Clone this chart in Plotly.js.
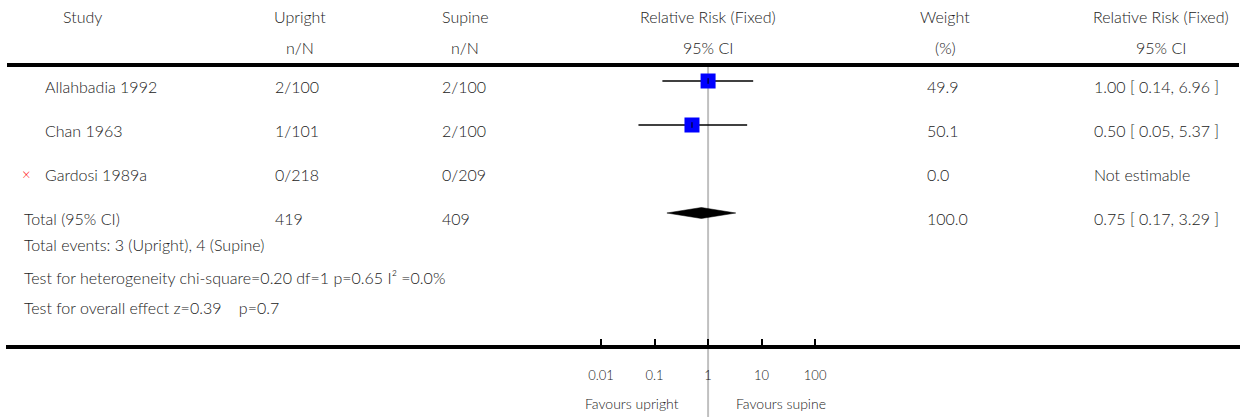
<!DOCTYPE html>
<html>
<head>
<meta charset="utf-8">
<script src="https://cdn.plot.ly/plotly-3.0.1.min.js"></script>
<style>html,body{margin:0;padding:0;background:#fff;}#chart{width:1249px;height:417px;}</style>
</head>
<body>
<div id="chart"></div>
<script>
// ---- data ----
const studies = ['Allahbadia 1992', 'Chan 1963', 'Gardosi 1989a'];
const uprightNN = ['2/100', '1/101', '0/218'];
const supineNN = ['2/100', '2/100', '0/209'];
const weights = ['49.9', '50.1', '0.0'];
const rr = [1.00, 0.50, null];
const rrLo = [0.14, 0.05, null];
const rrHi = [6.96, 5.37, null];
const rrText = ['1.00 [ 0.14, 6.96 ]', '0.50 [ 0.05, 5.37 ]', 'Not estimable'];
const estimable = [true, true, false];

const totalLabel = 'Total (95% CI)';
const totalUpright = '419';
const totalSupine = '409';
const totalWeight = '100.0';
const totalRR = 0.75;
const totalLo = 0.17;
const totalHi = 3.29;
const totalText = '0.75 [ 0.17, 3.29 ]';

const footerLines = [
  'Total events: 3 (Upright), 4 (Supine)',
  'Test for heterogeneity chi-square=0.20 df=1 p=0.65 I² =0.0%',
  'Test for overall effect z=0.39&nbsp;&nbsp;&nbsp;&nbsp;p=0.7'
];

const headerTop = ['Study', 'Upright', 'Supine', 'Relative Risk (Fixed)', 'Weight', 'Relative Risk (Fixed)'];
const headerBottom = ['', 'n/N', 'n/N', '95% CI', '(%)', '95% CI'];

const tickVals = [0.01, 0.1, 1, 10, 100];
const tickText = ['0.01', '0.1', '1', '10', '100'];
const favourLeft = 'Favours upright';
const favourRight = 'Favours supine';

// ---- layout constants ----
const W = 1249, H = 417;
const M = {l: 6, r: 9, t: 65, b: 72};
const plotW = W - M.l - M.r, plotH = H - M.t - M.b;
const px = v => (v - M.l) / plotW;            // pixel x -> paper x
const py = v => (H - M.b - v) / plotH;         // pixel y -> paper y
const FONT = 'Lato, sans-serif';
const TXT = '#222';
const FS = 16;
const FW = 300;

const headerX = [82, 300, 465, 707.5, 945, 1161];
const colLeft = {study: 43, upright: 273, supine: 440, weight: 925, rr: 1092};
const totalX = 22;
const rowShift = -5;

const rows = studies.map((_, i) => i);
const totalRow = studies.length;

const traces = [];
// CI lines
rows.forEach(i => {
  if (!estimable[i]) return;
  traces.push({
    type: 'scatter', mode: 'lines', x: [rrLo[i], rrHi[i]], y: [i, i],
    line: {color: '#000', width: 1.5}, hoverinfo: 'skip', showlegend: false
  });
});
// squares
traces.push({
  type: 'scatter', mode: 'markers',
  x: rows.filter(i => estimable[i]).map(i => rr[i]),
  y: rows.filter(i => estimable[i]),
  marker: {symbol: 'square', size: 15, color: '#0000ff', line: {width: 0}},
  hoverinfo: 'skip', showlegend: false
});
traces.push({
  type: 'scatter', mode: 'markers',
  x: rows.filter(i => estimable[i]).map(i => rr[i]),
  y: rows.filter(i => estimable[i]),
  marker: {symbol: 'line-ns', size: 4, line: {color: '#000', width: 1}},
  hoverinfo: 'skip', showlegend: false
});
// diamond
const dh = 0.125;
traces.push({
  type: 'scatter', mode: 'lines',
  x: [totalLo, totalRR, totalHi, totalRR, totalLo],
  y: [totalRow, totalRow - dh, totalRow, totalRow + dh, totalRow],
  fill: 'toself', fillcolor: '#000', line: {color: '#000', width: 0.5},
  hoverinfo: 'skip', showlegend: false
});

const ann = [];
const txt = (text, x, y, anchor, extra) => Object.assign({
  text, x, y, xref: 'paper', yref: 'paper', xanchor: anchor, yanchor: 'middle',
  showarrow: false, font: {family: FONT, size: FS, color: TXT, weight: FW}
}, extra || {});

headerTop.forEach((t, k) => ann.push(txt(t, px(headerX[k]), py(17), 'center')));
headerBottom.forEach((t, k) => { if (t) ann.push(txt(t, px(headerX[k]), py(47), 'center')); });

rows.forEach(i => {
  const ry = {yref: 'y', yshift: rowShift};
  ann.push(txt(studies[i], px(colLeft.study), i, 'left', ry));
  ann.push(txt(uprightNN[i], px(colLeft.upright), i, 'left', ry));
  ann.push(txt(supineNN[i], px(colLeft.supine), i, 'left', ry));
  ann.push(txt(weights[i], px(colLeft.weight), i, 'left', ry));
  ann.push(txt(rrText[i], px(colLeft.rr), i, 'left', ry));
  if (!estimable[i]) {
    ann.push(txt('×', px(27), i, 'center', {yref: 'y', yshift: rowShift, font: {family: FONT, size: 15, color: '#ff0000', weight: FW}}));
  }
});
{
  const ry = {yref: 'y', yshift: rowShift};
  ann.push(txt(totalLabel, px(totalX), totalRow, 'left', ry));
  ann.push(txt(totalUpright, px(colLeft.upright), totalRow, 'left', ry));
  ann.push(txt(totalSupine, px(colLeft.supine), totalRow, 'left', ry));
  ann.push(txt(totalWeight, px(colLeft.weight), totalRow, 'left', ry));
  ann.push(txt(totalText, px(colLeft.rr), totalRow, 'left', ry));
}
const footerY = [245, 277, 307];
footerLines.forEach((t, k) => ann.push(txt(t, px(totalX), py(footerY[k]), 'left')));

ann.push({text: favourLeft, x: 0, xref: 'x', y: py(403), yref: 'paper', xanchor: 'right', yanchor: 'middle',
  xshift: -27, showarrow: false, font: {family: FONT, size: 14, color: TXT, weight: FW}});
ann.push({text: favourRight, x: 0, xref: 'x', y: py(403), yref: 'paper', xanchor: 'left', yanchor: 'middle',
  xshift: 26, showarrow: false, font: {family: FONT, size: 14, color: TXT, weight: FW}});

const layout = {
  width: W, height: H,
  margin: M,
  paper_bgcolor: '#fff', plot_bgcolor: '#fff',
  showlegend: false,
  xaxis: {
    type: 'log', range: [-13.12, 9.94], fixedrange: true,
    showgrid: false, zeroline: false,
    showline: true, linecolor: '#000', linewidth: 4,
    ticks: 'inside', ticklen: 6, tickwidth: 2, tickcolor: '#000',
    tickvals: tickVals, ticktext: tickText, ticklabelstandoff: 15,
    tickfont: {family: FONT, size: 13, color: TXT, weight: FW}
  },
  yaxis: {
    range: [(H - M.b - 81) / 44, (M.t - 81) / 44], fixedrange: true,
    visible: false, showgrid: false, zeroline: false
  },
  shapes: [
    {type: 'line', xref: 'x', yref: 'paper', x0: 1, x1: 1, y0: 1, y1: py(H), layer: 'below',
     line: {color: '#c0c0c0', width: 2}},
    {type: 'line', xref: 'paper', yref: 'paper', x0: px(7), x1: px(1239), y0: 1, y1: 1,
     line: {color: '#000', width: 4}}
  ],
  annotations: ann
};

Plotly.newPlot('chart', traces, layout, {displayModeBar: false, staticPlot: true});
</script>
</body>
</html>
